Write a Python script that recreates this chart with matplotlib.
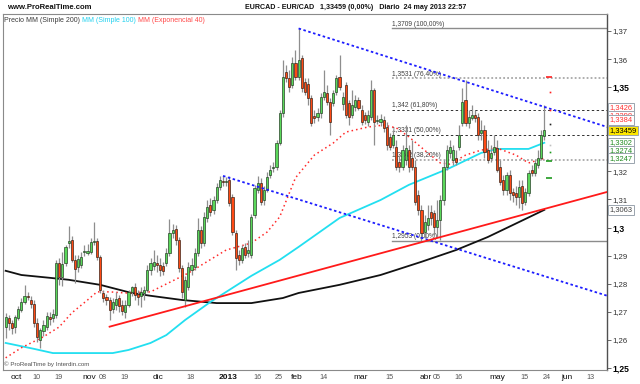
import matplotlib

matplotlib.use("Agg")

import matplotlib.pyplot as plt
import numpy as np
import pandas as pd
from matplotlib.transforms import blended_transform_factory

plt.rcParams["font.family"] = ["Liberation Sans", "DejaVu Sans"]

# EURCAD daily candles, prices in 1e-4 units (27 sep 2012 .. 24 may 2013)
OPEN = [
    12646, 12678, 12660, 12646, 12678, 12707, 12735, 12757, 12742, 12728,
    12660, 12600, 12632, 12646, 12682, 12678, 12689, 12874, 12824, 12874,
    12945, 12956, 12885, 12860, 12867, 12913, 12910, 12913, 12949, 12952,
    12895, 12767, 12753, 12742, 12710, 12725, 12749, 12725, 12700, 12725,
    12771, 12789, 12764, 12757, 12767, 12778, 12849, 12863, 12874, 12867,
    12863, 12874, 12910, 12981, 12995, 12956, 12856, 12742, 12789, 12849,
    12860, 12910, 12991, 12945, 13034, 13080, 13063, 13098, 13145, 13166,
    13162, 13169, 13109, 12981, 12902, 12885, 12931, 12910, 12902, 13045,
    13134, 13159, 13098, 13134, 13187, 13212, 13216, 13301, 13408, 13554,
    13533, 13508, 13586, 13536, 13604, 13518, 13511, 13461, 13397, 13394,
    13408, 13465, 13479, 13447, 13444, 13483, 13536, 13440, 13508, 13444,
    13401, 13429, 13454, 13419, 13401, 13376, 13394, 13490, 13379, 13376,
    13383, 13358, 13323, 13294, 13287, 13234, 13216, 13241, 13276, 13248,
    13216, 13116, 13063, 12984, 13009, 13055, 13052, 13002, 13027, 13098,
    13216, 13266, 13241, 13248, 13287, 13372, 13454, 13372, 13390, 13401,
    13394, 13337, 13347, 13276, 13248, 13269, 13283, 13216, 13169, 13134,
    13187, 13127, 13123, 13109, 13148, 13091, 13123, 13205, 13194, 13223,
    13248, 13326,
]
HIGH = [
    12696, 12689, 12671, 12689, 12721, 12749, 12796, 12771, 12757, 12742,
    12678, 12643, 12671, 12700, 12700, 12710, 12885, 12892, 12913, 12938,
    13006, 12970, 12902, 12902, 12913, 12938, 12942, 12963, 13020, 12963,
    12902, 12778, 12764, 12753, 12749, 12771, 12760, 12742, 12742, 12778,
    12792, 12803, 12778, 12789, 12792, 12867, 12892, 12920, 12902, 12892,
    12878, 12927, 13031, 13013, 13009, 12966, 12867, 12828, 12878, 12892,
    12927, 13034, 13006, 13055, 13098, 13105, 13112, 13159, 13184, 13184,
    13180, 13184, 13120, 12991, 12920, 12938, 12945, 12956, 13048, 13152,
    13184, 13177, 13148, 13198, 13223, 13234, 13312, 13419, 13597, 13579,
    13561, 13607, 13632, 13709, 13614, 13533, 13533, 13472, 13419, 13426,
    13479, 13561, 13508, 13461, 13490, 13543, 13614, 13483, 13518, 13454,
    13490, 13472, 13465, 13436, 13412, 13419, 13525, 13497, 13401, 13404,
    13397, 13376, 13337, 13347, 13312, 13258, 13294, 13365, 13294, 13312,
    13241, 13134, 13080, 13045, 13080, 13080, 13063, 13098, 13116, 13241,
    13294, 13312, 13294, 13276, 13365, 13497, 13525, 13419, 13436, 13419,
    13408, 13383, 13365, 13312, 13294, 13330, 13312, 13241, 13187, 13198,
    13205, 13141, 13148, 13169, 13169, 13141, 13205, 13223, 13241, 13276,
    13347, 13436,
]
LOW = [
    12607, 12636, 12621, 12625, 12671, 12700, 12728, 12742, 12714, 12646,
    12593, 12572, 12614, 12636, 12653, 12664, 12678, 12796, 12792, 12863,
    12927, 12878, 12803, 12842, 12856, 12899, 12902, 12906, 12938, 12885,
    12767, 12735, 12725, 12671, 12696, 12707, 12700, 12689, 12678, 12717,
    12757, 12742, 12725, 12717, 12742, 12771, 12831, 12849, 12842, 12828,
    12831, 12863, 12899, 12963, 12938, 12842, 12749, 12717, 12778, 12831,
    12849, 12899, 12927, 12935, 13020, 13041, 13048, 13088, 13134, 13148,
    13148, 13077, 12974, 12849, 12867, 12874, 12892, 12895, 12892, 13034,
    13123, 13080, 13080, 13127, 13177, 13198, 13205, 13294, 13394, 13518,
    13483, 13497, 13525, 13525, 13483, 13472, 13436, 13362, 13372, 13379,
    13390, 13454, 13436, 13330, 13433, 13472, 13490, 13419, 13390, 13365,
    13390, 13415, 13419, 13365, 13369, 13362, 13383, 13294, 13369, 13362,
    13340, 13276, 13276, 13283, 13205, 13198, 13205, 13223, 13198, 13205,
    13080, 13045, 12953, 12963, 12991, 13009, 12974, 12966, 12956, 13080,
    13205, 13248, 13223, 13223, 13276, 13362, 13362, 13355, 13383, 13376,
    13312, 13312, 13248, 13230, 13234, 13258, 13198, 13152, 13116, 13116,
    13098, 13091, 13080, 13070, 13063, 13080, 13112, 13184, 13184, 13212,
    13241, 13312,
]
CLOSE = [
    12682, 12660, 12643, 12682, 12710, 12735, 12757, 12753, 12728, 12660,
    12611, 12636, 12653, 12685, 12675, 12693, 12874, 12824, 12870, 12931,
    12952, 12885, 12853, 12888, 12895, 12917, 12917, 12949, 12952, 12895,
    12778, 12749, 12742, 12707, 12735, 12746, 12721, 12703, 12725, 12771,
    12789, 12760, 12753, 12771, 12778, 12849, 12874, 12878, 12867, 12849,
    12846, 12910, 12981, 12991, 12956, 12856, 12771, 12814, 12860, 12867,
    12910, 12991, 12945, 13038, 13073, 13055, 13098, 13145, 13169, 13162,
    13166, 13088, 12984, 12892, 12885, 12927, 12902, 12920, 13038, 13141,
    13159, 13091, 13134, 13180, 13205, 13216, 13301, 13408, 13536, 13533,
    13501, 13586, 13536, 13597, 13497, 13483, 13461, 13372, 13390, 13408,
    13465, 13483, 13447, 13376, 13479, 13533, 13501, 13465, 13401, 13394,
    13436, 13454, 13426, 13376, 13383, 13401, 13490, 13376, 13383, 13387,
    13355, 13294, 13287, 13330, 13216, 13216, 13276, 13283, 13216, 13216,
    13091, 13063, 12981, 13020, 13034, 13034, 13002, 13027, 13098, 13216,
    13276, 13287, 13276, 13234, 13330, 13447, 13372, 13394, 13401, 13390,
    13330, 13347, 13269, 13241, 13266, 13287, 13205, 13162, 13134, 13187,
    13123, 13116, 13109, 13145, 13088, 13127, 13194, 13194, 13230, 13248,
    13330, 13345.9,
]

# moving averages: (bar index, price 1e-4)
SMA200_IDX = [0, 5, 14, 20, 30, 40, 46, 56, 67, 78, 88, 93, 106, 119, 132, 143, 153, 161, 171]
SMA200_VAL = [12846, 12831, 12821, 12814, 12796, 12767, 12757, 12742, 12731, 12731,
              12749, 12767, 12796, 12831, 12878, 12920, 12966, 13009, 13063]
SMA100_IDX = [0, 9, 15, 34, 39, 46, 51, 57, 65, 78, 87, 93, 106, 119, 128, 141, 151, 156, 166, 171]
SMA100_VAL = [12589, 12568, 12553, 12553, 12564, 12589, 12617, 12671, 12735, 12828,
              12885, 12931, 13034, 13098, 13152, 13212, 13266, 13280, 13280, 13302]
EMA40_IDX = [0, 5, 12, 17, 21, 26, 29, 33, 38, 46, 58, 70, 78, 83, 87, 92, 98, 104,
             108, 115, 120, 124, 128, 134, 138, 141, 146, 151, 156, 162, 166, 171]
EMA40_VAL = [12536, 12572, 12611, 12646, 12696, 12742, 12771, 12771, 12767, 12771,
             12838, 12920, 12945, 12984, 13038, 13177, 13258, 13301, 13340, 13358,
             13365, 13355, 13323, 13266, 13230, 13226, 13258, 13276, 13283, 13258,
             13230, 13247]

# drawn trend lines: (start index, start price, end index, end price)
UPPER_CHANNEL = (93, 1.3709, 191, 1.3358)
LOWER_CHANNEL = (69, 1.3184, 191, 1.2757)
SUPPORT_LINE = (33, 1.2647, 191, 1.3127)

FIB_START = 122.5
FIB_LEVELS = [1.3709, 1.3531, 1.342, 1.3331, 1.3242, 1.2953]
FIB_PCT = ["100,00%", "76,40%", "61,80%", "50,00%", "38,20%", "0,00%"]
FIB_STYLE = ["solid", "dotted", "dashed", "dashed", "dotted", "solid"]

PIVOT_LEVELS = [1.3536, 1.3483, 1.3419, 1.3369, 1.3294, 1.3269, 1.3237, 1.3177]
PIVOT_COLORS = ["#ff2020", "#ff2020", "#ff2020", "#202020", "#c0c0c0", "#1f9a1f", "#1f9a1f", "#1f9a1f"]
PIVOT_DASH = [True, False, False, False, False, False, True, True]

BOX_VALUES = [1.3426, 1.3398, 1.3384, 1.33459, 1.3302, 1.3274, 1.3247, 1.3063]
BOX_COLORS = ["#ff3030", "#ff3030", "#ff3030", "#000000", "#1f8a1f", "#1f8a1f", "#1f8a1f", "#404040"]

TICK_DATES = ["2012-10-01", "2012-10-10", "2012-10-19", "2012-11-01", "2012-11-08", "2012-11-19",
              "2012-12-03", "2012-12-18", "2013-01-01", "2013-01-16", "2013-01-25", "2013-02-01",
              "2013-02-14", "2013-03-01", "2013-03-15", "2013-04-01", "2013-04-05", "2013-04-16",
              "2013-05-01", "2013-05-15", "2013-05-24", "2013-06-03", "2013-06-13"]
TICK_TEXT = ["oct", "10", "19", "nov", "08", "19", "dic", "18", "2013", "16", "25", "feb",
             "14", "mar", "15", "abr", "05", "16", "may", "15", "24", "jun", "13"]
TICK_MONTH = ["oct", "nov", "dic", "2013", "feb", "mar", "abr", "may", "jun"]


def fmt_price(v: float) -> str:
    return f"{v:.2f}".rstrip("0").replace(".", ",")


def main() -> None:
    o = np.array(OPEN, dtype=float) / 1e4
    h = np.array(HIGH, dtype=float) / 1e4
    l = np.array(LOW, dtype=float) / 1e4
    c = np.array(CLOSE, dtype=float) / 1e4
    x = np.arange(len(c))

    fig = plt.figure(figsize=(6.4, 3.84), dpi=100)
    ax = fig.add_axes([2.5 / 640, 14 / 384, 604.5 / 640, 356 / 384])
    ax.set_xlim(-1.0, 190.9)
    ax.set_ylim(1.24927, 1.37605)

    # fibonacci levels
    for lvl, pct, style in zip(FIB_LEVELS, FIB_PCT, FIB_STYLE):
        if style == "solid":
            ax.plot([FIB_START, 191], [lvl, lvl], color="#8c8c8c", lw=1.0, zorder=1)
        elif style == "dashed":
            ax.plot([FIB_START, 191], [lvl, lvl], color="#303030", lw=0.7, ls=(0, (2.5, 2.5)), zorder=1)
        else:
            ax.plot([FIB_START, 191], [lvl, lvl], color="#a8a8a8", lw=1.3, ls=(0, (1, 1.2)), zorder=1)
        ax.text(FIB_START + 0.3, lvl + 0.0003, f"{str(lvl).replace('.', ',')} ({pct})",
                fontsize=4.8, color="#404040", ha="left", va="bottom", zorder=1)

    # moving averages
    ax.plot(SMA200_IDX, np.array(SMA200_VAL) / 1e4, color="#111111", lw=1.3, zorder=2)
    ax.plot(SMA100_IDX, np.array(SMA100_VAL) / 1e4, color="#22dff0", lw=1.3, zorder=2)
    ax.plot(EMA40_IDX, np.array(EMA40_VAL) / 1e4, color="#ff2a2a", lw=1.1, ls=(0, (1, 2)), zorder=2)

    # trend lines
    for (x0, y0, x1, y1), col, ls in [
        (UPPER_CHANNEL, "#1c1cff", (0, (1.4, 1.4))),
        (LOWER_CHANNEL, "#1c1cff", (0, (1.4, 1.4))),
        (SUPPORT_LINE, "#ff1a1a", "solid"),
    ]:
        ax.plot([x0, x1], [y0, y1], color=col, lw=1.3, ls=ls, zorder=5)

    # candles
    h = np.maximum(h, np.maximum(o, c))
    l = np.minimum(l, np.minimum(o, c))
    ax.vlines(x, l, h, color="#8e8e8e", lw=0.9, zorder=3)
    up = c >= o
    bottom = np.minimum(o, c)
    height = np.maximum(np.abs(c - o), 0.00012)
    ax.bar(x[up], height[up], bottom=bottom[up], width=0.68, color="#5ad85a",
           edgecolor="#1d331d", linewidth=0.45, zorder=4)
    ax.bar(x[~up], height[~up], bottom=bottom[~up], width=0.68, color="#ff4a14",
           edgecolor="#2a1a10", linewidth=0.45, zorder=4)

    # pivot markers next to the last bar
    for lvl, col, dash in zip(PIVOT_LEVELS, PIVOT_COLORS, PIVOT_DASH):
        if dash:
            ax.plot([len(c) + 0.6], [lvl], marker="_", ms=4, mew=1.2, color=col, zorder=5)
        else:
            ax.plot([len(c) + 0.8], [lvl], marker="s", ms=1.2, mew=0, color=col, zorder=5)

    # axes frame
    for side in ["top", "left", "bottom"]:
        ax.spines[side].set_color("#8a8a8a")
        ax.spines[side].set_linewidth(0.8)
    ax.spines["right"].set_color("#505050")
    ax.spines["right"].set_linewidth(1.0)

    # right price axis
    ax.yaxis.tick_right()
    yt = np.round(np.arange(1.25, 1.3701, 0.01), 2)
    ax.set_yticks(yt)
    ax.set_yticklabels([fmt_price(v) for v in yt])
    ax.tick_params(axis="y", length=3, width=0.6, color="#505050", labelsize=5.6,
                   labelcolor="#303030", pad=1)
    for lab, v in zip(ax.get_yticklabels(), yt):
        if round(v * 100) % 5 == 0:
            lab.set_fontweight("bold")
            lab.set_color("#000000")
            lab.set_fontsize(6.2)
    ax.set_xticks([])

    # date labels
    days = pd.bdate_range("2012-09-27", "2013-06-14")
    pos = {d: i for i, d in enumerate(days)}
    tr = blended_transform_factory(ax.transData, ax.transAxes)
    for d, txt in zip(TICK_DATES, TICK_TEXT):
        idx = pos[pd.Timestamp(d)]
        month = txt in TICK_MONTH
        ax.text(idx - 0.5, -0.012, txt, transform=tr, ha="left", va="top",
                fontsize=6.0 if month else 5.2,
                color="#111111" if month else "#555555",
                fontweight="bold" if txt == "2013" else "normal", clip_on=False)

    # value boxes on the right
    ytr = blended_transform_factory(ax.transAxes, ax.transData)
    order = [0, 1, 2, 4, 5, 6, 7, 3]
    for k in order:
        v = BOX_VALUES[k]
        yellow = k == 3
        ax.text(1.004, v, str(v).replace(".", ","), transform=ytr, ha="left", va="center",
                fontsize=5.4, color=BOX_COLORS[k], clip_on=False, zorder=10,
                bbox=dict(boxstyle="square,pad=0.18", fc="#ffe800" if yellow else "white",
                          ec="#9aa4ae", lw=0.7))

    # legend line inside the chart
    t1 = ax.text(0.002, 0.992, "Precio MM (Simple 200) ", transform=ax.transAxes,
                 fontsize=5.0, color="#3a3a3a", ha="left", va="top", zorder=11)
    t2 = ax.annotate("MM (Simple 100) ", xy=(1, 0), xycoords=t1, fontsize=5.0,
                     color="#20d0ee", ha="left", va="bottom", zorder=11)
    ax.annotate("MM (Exponencial 40)", xy=(1, 0), xycoords=t2, fontsize=5.0,
                color="#ff4848", ha="left", va="bottom", zorder=11)
    ax.text(0.002, 0.008, "\u00a9 ProRealTime by Interdin.com", transform=ax.transAxes,
            fontsize=4.4, color="#505050", ha="left", va="bottom", zorder=11)

    # header
    fig.text(7 / 640, 1 - 7.5 / 384, "www.ProRealTime.com", fontsize=5.6, fontweight="bold",
             color="#111111", ha="left", va="center")
    fig.text(245 / 640, 1 - 7.5 / 384, "EURCAD - EUR/CAD", fontsize=5.1, fontweight="bold",
             color="#111111", ha="left", va="center")
    fig.text(320 / 640, 1 - 7.5 / 384, "1,33459 (0,00%)   Diario  24 may 2013 22:57",
             fontsize=5.1, fontweight="bold", color="#111111", ha="left", va="center")

    fig.savefig("out.png", dpi=100)
    plt.close(fig)


if __name__ == "__main__":
    main()
